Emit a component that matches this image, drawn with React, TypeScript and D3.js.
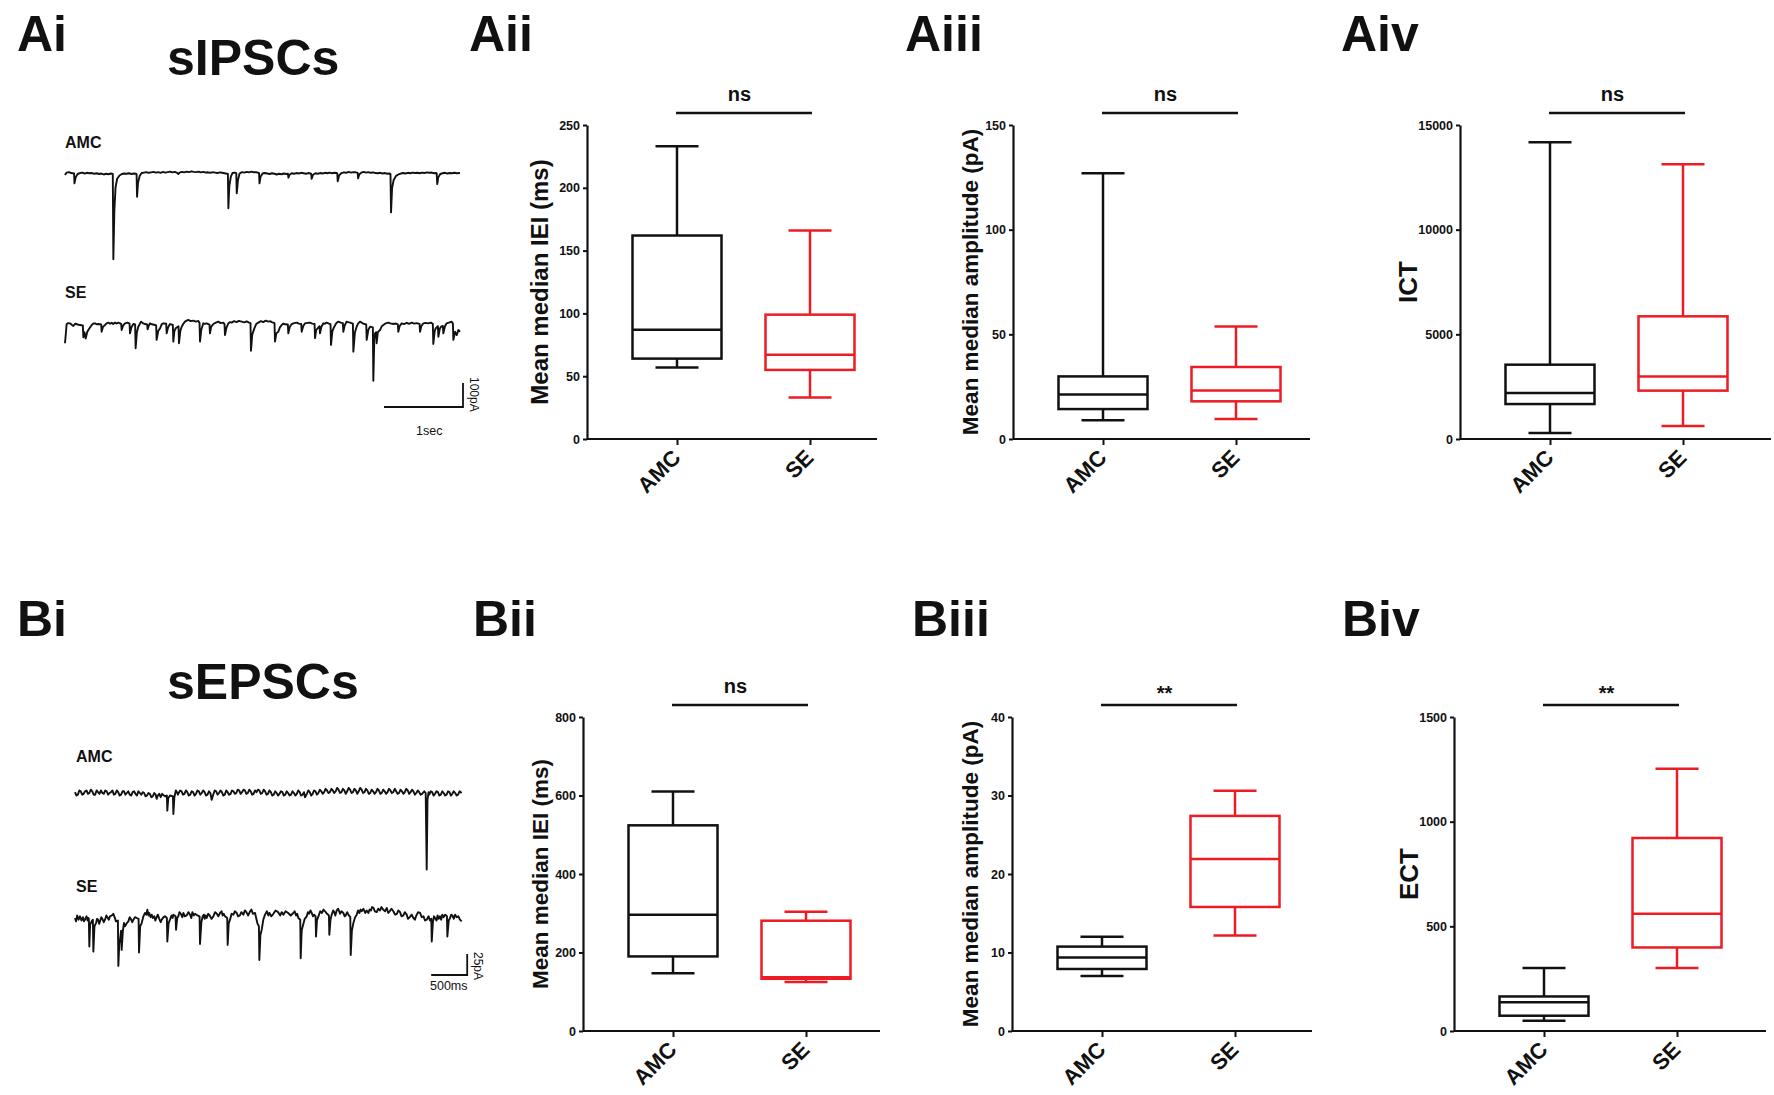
import React, { useEffect, useRef } from "react";
import * as d3 from "d3";

const FONT = "'Liberation Sans', Arial, Helvetica, sans-serif";
const INK = "#111";
const RED = "#ec1c24";

const groups = ["AMC", "SE"];

// box stats per group: [min, q1, median, q3, max]
const ipscIei = [[57, 64, 87, 162, 233], [33, 55, 67, 99, 166]];
const ipscAmp = [[9, 14.3, 21.2, 29.9, 127], [9.5, 18, 23.2, 34.4, 53.8]];
const ipscIct = [[290, 1670, 2200, 3550, 14170], [620, 2310, 2990, 5860, 13130]];
const epscIei = [[147, 190, 296, 524, 610], [125, 133, 137, 281, 304]];
const epscAmp = [[7, 7.9, 9.35, 10.75, 12], [12.15, 15.8, 21.9, 27.4, 30.6]];
const epscEct = [[49, 73, 137, 165, 301], [301, 399, 560, 922, 1253]];

// example current traces: [time (s), current (pA)]
const ipscAmc = [
  [0, -4], [0.02, 6], [0.05, 8], [0.08, 4], [0.1, 3], [0.115, 2], [0.12, -39], [0.135, -14], [0.16, 0], [0.19, 4],
  [0.22, 6], [0.25, 2], [0.28, 5], [0.31, 3], [0.34, 4], [0.37, 1], [0.4, 3], [0.43, 0], [0.46, 2], [0.49, -2],
  [0.52, 1], [0.55, -1], [0.58, 2], [0.605, 0], [0.612, -355], [0.625, -150], [0.64, -55], [0.66, -20], [0.69, -6],
  [0.72, 0], [0.75, 2], [0.78, 1], [0.81, 3], [0.84, 0], [0.87, 2], [0.9, 1], [0.906, 0], [0.912, -95], [0.925, -35],
  [0.945, -8], [0.97, 4], [1.0, 6], [1.03, 8], [1.06, 5], [1.09, 7], [1.12, 9], [1.15, 6], [1.18, 8], [1.21, 5],
  [1.24, 9], [1.27, 6], [1.3, 8], [1.33, 10], [1.36, 7], [1.39, 9], [1.42, 5], [1.435, 0], [1.45, 6], [1.48, 9],
  [1.51, 7], [1.54, 10], [1.57, 8], [1.6, 11], [1.63, 9], [1.66, 8], [1.69, 10], [1.72, 7], [1.75, 9], [1.78, 6],
  [1.81, 7], [1.84, 5], [1.87, 8], [1.9, 6], [1.93, 4], [1.96, 7], [1.99, 5], [2.02, 3], [2.05, 1], [2.062, 0],
  [2.068, -143], [2.08, -50], [2.1, -10], [2.12, 4], [2.15, 6], [2.168, 4], [2.174, -80], [2.19, -25], [2.21, 2],
  [2.24, 8], [2.27, 6], [2.3, 9], [2.33, 7], [2.36, 10], [2.39, 7], [2.42, 8], [2.45, 5], [2.456, 4], [2.462, -39],
  [2.475, -12], [2.5, 2], [2.53, 4], [2.56, 2], [2.59, 0], [2.62, 3], [2.65, 1], [2.68, -2], [2.71, 1], [2.74, -1],
  [2.77, 2], [2.8, 0], [2.822, 1], [2.828, -15], [2.845, -2], [2.87, 3], [2.9, 1], [2.93, 4], [2.96, 2], [2.99, 5],
  [3.02, 3], [3.05, 1], [3.08, 4], [3.11, 2], [3.116, 1], [3.122, -20], [3.14, -3], [3.17, 3], [3.2, 1], [3.23, 4],
  [3.26, 2], [3.29, 5], [3.32, 3], [3.35, 6], [3.38, 3], [3.41, 5], [3.44, 4], [3.446, 3], [3.452, -30], [3.47, -6],
  [3.5, 4], [3.53, 7], [3.56, 5], [3.59, 9], [3.62, 6], [3.65, 8], [3.68, 7], [3.705, 5], [3.71, -18], [3.725, -2],
  [3.75, 6], [3.78, 9], [3.81, 6], [3.84, 8], [3.87, 5], [3.9, 7], [3.93, 4], [3.96, 3], [3.99, 5], [4.02, 2],
  [4.05, 4], [4.08, 1], [4.11, 2], [4.12, 0], [4.127, -160], [4.14, -60], [4.16, -25], [4.19, -8], [4.22, -2],
  [4.25, 2], [4.28, 4], [4.31, 2], [4.34, 5], [4.37, 3], [4.4, 6], [4.43, 4], [4.46, 5], [4.49, 3], [4.52, 6],
  [4.55, 4], [4.58, 7], [4.61, 5], [4.64, 6], [4.67, 3], [4.7, 4], [4.705, 3], [4.712, -42], [4.725, -14], [4.75, 0],
  [4.78, 3], [4.81, 5], [4.84, 2], [4.87, 4], [4.9, 3], [4.93, 5], [4.96, 3], [5.0, 4],
];

const ipscSe = [
  [0, -76], [0.021, 4], [0.04, 8], [0.063, 7], [0.085, 1], [0.105, -4], [0.128, 5], [0.148, 4], [0.17, 1], [0.19, 0],
  [0.226, -2], [0.232, -51], [0.246, -30], [0.262, -56], [0.28, -30], [0.295, -21], [0.338, 0], [0.36, 6], [0.38, 7],
  [0.4, 3], [0.422, 4], [0.458, 2], [0.464, -28], [0.48, -8], [0.506, 0], [0.53, 8], [0.549, 10], [0.57, 5],
  [0.591, 9], [0.61, 4], [0.633, 10], [0.655, 6], [0.675, 10], [0.711, 5], [0.717, -21], [0.735, -3], [0.76, 7],
  [0.79, 10], [0.817, 6], [0.823, -35], [0.84, -10], [0.865, 4], [0.888, 2], [0.894, -97], [0.91, -30], [0.928, -7],
  [0.962, 14], [0.985, 8], [1.013, 4], [1.04, 2], [1.046, -18], [1.06, -3], [1.076, 7], [1.1, 3], [1.139, 0],
  [1.154, -2], [1.16, -62], [1.18, -25], [1.203, -14], [1.225, 4], [1.245, 7], [1.281, 5], [1.287, -35], [1.305, -10],
  [1.329, 4], [1.35, 2], [1.365, 0], [1.371, -69], [1.385, -25], [1.401, -14], [1.437, -5], [1.443, -76], [1.46, -25],
  [1.477, -7], [1.5, 6], [1.519, 14], [1.54, 18], [1.561, 21], [1.59, 16], [1.624, 18], [1.655, 14], [1.688, 17],
  [1.703, 8], [1.709, -69], [1.725, -20], [1.751, 7], [1.77, 5], [1.793, 7], [1.829, 2], [1.835, -35], [1.85, -8],
  [1.878, 4], [1.91, 10], [1.941, 14], [1.97, 8], [2.004, 10], [2.019, 4], [2.025, -42], [2.045, -10], [2.068, 7],
  [2.09, 12], [2.11, 10], [2.14, 16], [2.173, 12], [2.2, 17], [2.236, 14], [2.27, 11], [2.3, 15], [2.33, 10],
  [2.348, 8], [2.354, -107], [2.37, -40], [2.397, -14], [2.42, 4], [2.447, 10], [2.48, 16], [2.51, 12], [2.54, 18],
  [2.574, 14], [2.6, 16], [2.616, 12], [2.652, 8], [2.658, -69], [2.675, -35], [2.7, -28], [2.72, -10], [2.743, 0],
  [2.765, 6], [2.785, 3], [2.821, 2], [2.827, -35], [2.845, -8], [2.869, 4], [2.9, 8], [2.932, 10], [2.96, 6],
  [2.99, 4], [2.996, -28], [3.015, -5], [3.038, 7], [3.07, 9], [3.101, 10], [3.13, 6], [3.159, 4], [3.165, -55],
  [3.18, -20], [3.198, -14], [3.222, -5], [3.228, -35], [3.245, -8], [3.27, 7], [3.29, 5], [3.312, 10], [3.34, 6],
  [3.361, 4], [3.367, -83], [3.385, -25], [3.409, -7], [3.435, 8], [3.46, 14], [3.49, 10], [3.517, 8], [3.523, -28],
  [3.54, -2], [3.565, 14], [3.585, 12], [3.608, 10], [3.644, 6], [3.65, -111], [3.67, -30], [3.692, -7], [3.71, 6],
  [3.734, 14], [3.755, 10], [3.776, 6], [3.813, 2], [3.819, -62], [3.84, -20], [3.861, -7], [3.897, -10],
  [3.903, -232], [3.915, -60], [3.924, -35], [3.939, -30], [3.945, -76], [3.96, -30], [3.987, -21], [4.01, -5],
  [4.03, 0], [4.06, 7], [4.093, 10], [4.12, 7], [4.156, 4], [4.19, 6], [4.213, 3], [4.219, -28], [4.235, -5],
  [4.262, 7], [4.29, 4], [4.325, 9], [4.355, 5], [4.388, 10], [4.42, 6], [4.451, 8], [4.488, 5], [4.494, -28],
  [4.51, -5], [4.536, 7], [4.565, 9], [4.599, 7], [4.63, 10], [4.656, 5], [4.662, -79], [4.68, -25], [4.692, -14],
  [4.72, -5], [4.726, -49], [4.745, -15], [4.76, -7], [4.783, -4], [4.789, -35], [4.81, -5], [4.831, 7], [4.86, 10],
  [4.895, 14], [4.91, 6], [4.916, -62], [4.937, -28], [4.958, -42], [4.979, -21], [5.0, -28],
];

const epscAmc = [
  [0, 1], [0.02, -3], [0.04, -2], [0.06, 3], [0.08, 2], [0.1, -2], [0.12, -1], [0.14, 2], [0.16, 3], [0.18, -1],
  [0.2, 0], [0.22, 4], [0.24, 2], [0.26, -2], [0.28, -2], [0.3, 3], [0.32, 1], [0.34, -1], [0.36, 3], [0.38, 0],
  [0.4, -1], [0.42, 3], [0.44, 2], [0.46, -2], [0.48, 0], [0.5, 1], [0.52, 3], [0.54, -2], [0.56, -1], [0.58, 3],
  [0.6, 1], [0.62, -3], [0.64, -2], [0.66, 2], [0.68, 2], [0.7, -2], [0.72, 0], [0.74, 2], [0.76, -2], [0.78, -3],
  [0.8, 1], [0.82, 2], [0.84, -1], [0.86, -3], [0.88, 2], [0.9, 0], [0.92, -2], [0.94, 1], [0.96, 0], [0.98, -4],
  [1.0, -3], [1.02, 0], [1.04, -1], [1.06, -5], [1.08, -4], [1.1, 0], [1.12, -2], [1.134, -7], [1.15, -3], [1.17, -1],
  [1.19, -5], [1.21, -1], [1.22, -2], [1.25, -4], [1.276, -3], [1.282, -21], [1.295, -6], [1.32, -3], [1.36, -4],
  [1.366, -25], [1.38, -5], [1.4, 3], [1.41, 2], [1.43, -2], [1.44, 0], [1.46, 3], [1.48, 2], [1.5, -2], [1.52, -1],
  [1.54, 3], [1.56, 1], [1.58, -3], [1.6, -2], [1.62, 2], [1.64, 1], [1.66, -3], [1.68, -1], [1.7, 3], [1.72, 2],
  [1.74, -2], [1.76, 0], [1.78, 3], [1.8, 1], [1.82, -3], [1.84, -2], [1.86, 2], [1.88, 0], [1.898, -8], [1.92, -2],
  [1.94, 3], [1.96, 2], [1.98, -2], [2.0, 0], [2.02, 3], [2.04, 1], [2.06, -3], [2.08, -2], [2.1, 3], [2.12, 1],
  [2.14, -2], [2.16, -1], [2.18, 3], [2.2, 2], [2.22, -1], [2.24, 0], [2.26, 4], [2.28, 3], [2.3, -1], [2.32, 1],
  [2.34, 4], [2.36, 3], [2.38, -1], [2.4, 0], [2.42, 4], [2.44, 2], [2.46, -2], [2.48, -1], [2.5, 3], [2.52, 1],
  [2.54, 4], [2.56, 3], [2.58, -1], [2.6, 0], [2.62, 4], [2.64, 2], [2.66, -2], [2.68, -1], [2.7, 3], [2.72, 1],
  [2.74, -3], [2.76, -2], [2.78, 2], [2.8, 0], [2.82, -3], [2.84, -1], [2.86, 2], [2.88, 1], [2.9, -3], [2.92, -2],
  [2.94, 2], [2.96, 0], [2.98, -3], [3.0, -2], [3.02, 2], [3.04, 0], [3.06, -3], [3.08, -1], [3.1, 3], [3.12, 1],
  [3.14, -3], [3.16, -2], [3.18, 1], [3.194, -5], [3.22, -1], [3.24, 3], [3.26, 1], [3.28, -3], [3.3, -1], [3.32, 3],
  [3.34, 2], [3.36, -2], [3.38, 0], [3.4, 4], [3.42, 2], [3.44, -1], [3.46, 1], [3.48, 5], [3.5, 3], [3.52, 0],
  [3.54, 1], [3.56, 5], [3.58, 3], [3.6, 0], [3.62, 2], [3.64, 6], [3.66, 4], [3.68, 0], [3.7, 1], [3.72, 5],
  [3.74, 3], [3.76, -1], [3.78, 2], [3.8, 6], [3.82, 4], [3.84, 0], [3.86, 1], [3.88, 5], [3.9, 3], [3.92, -1],
  [3.94, 2], [3.96, 6], [3.98, 4], [4.0, 0], [4.02, 1], [4.04, 5], [4.06, 3], [4.08, -1], [4.1, 0], [4.12, 4],
  [4.14, 2], [4.16, -1], [4.18, 1], [4.2, 5], [4.22, 3], [4.24, -1], [4.26, 0], [4.28, 4], [4.3, 2], [4.32, -1],
  [4.34, 1], [4.36, 5], [4.38, 3], [4.4, 0], [4.42, 1], [4.44, 5], [4.46, 2], [4.48, -1], [4.5, 0], [4.52, 4],
  [4.54, 2], [4.56, -1], [4.58, 1], [4.6, 5], [4.62, 3], [4.64, -1], [4.66, 1], [4.68, 4], [4.7, 2], [4.72, -2],
  [4.74, 0], [4.76, 3], [4.78, 1], [4.8, -2], [4.82, -1], [4.85, 2], [4.87, 0], [4.884, -91], [4.895, -8], [4.91, 1],
  [4.92, -2], [4.94, 2], [4.96, 1], [4.98, -3], [5.0, -1], [5.02, 2], [5.04, 1], [5.06, -3], [5.08, -2], [5.1, 2],
  [5.12, 0], [5.14, -3], [5.16, -2], [5.18, 2], [5.2, 1], [5.22, -3], [5.24, -1], [5.26, 2], [5.28, 0], [5.3, -3],
  [5.32, -2], [5.34, 2], [5.37, 0],
];

const epscSe = [
  [0, 0], [0.015, -4], [0.03, 3], [0.05, -2], [0.069, 2], [0.09, -3], [0.11, 1], [0.125, -4], [0.139, -2], [0.16, 2],
  [0.175, -3], [0.185, 0], [0.192, -1], [0.199, -34], [0.21, -8], [0.231, -4], [0.248, -2], [0.255, -40], [0.27, -10],
  [0.292, -6], [0.305, -1], [0.32, -2], [0.335, -7], [0.347, -4], [0.365, 1], [0.38, -1], [0.4, -5], [0.417, -2],
  [0.435, 3], [0.45, 1], [0.47, -2], [0.486, 2], [0.51, 3], [0.532, 5], [0.55, 1], [0.569, -4], [0.596, -3],
  [0.602, -57], [0.615, -30], [0.625, -26], [0.64, -15], [0.648, -38], [0.665, -15], [0.68, -6], [0.694, -10],
  [0.72, -6], [0.741, -4], [0.76, 1], [0.775, -1], [0.795, -5], [0.81, -2], [0.835, 1], [0.856, 0], [0.883, -1],
  [0.889, -41], [0.905, -10], [0.926, -6], [0.95, 2], [0.972, 6], [0.99, 4], [1.005, 10], [1.02, 3], [1.03, 6],
  [1.05, 1], [1.065, 4], [1.08, 0], [1.1, 2], [1.115, -3], [1.134, 1], [1.15, 4], [1.17, -1], [1.19, -5],
  [1.204, -2], [1.23, 1], [1.25, 2], [1.276, 0], [1.282, -28], [1.3, -6], [1.319, -2], [1.34, 3], [1.355, 0],
  [1.366, 4], [1.397, 2], [1.403, -14], [1.42, 0], [1.435, 2], [1.45, 7], [1.47, 5], [1.49, 1], [1.505, 6],
  [1.525, 2], [1.55, 3], [1.575, 7], [1.597, 4], [1.615, 0], [1.63, 7], [1.65, 3], [1.667, 5], [1.7, 3], [1.73, 2],
  [1.736, -31], [1.755, -5], [1.773, 2], [1.79, 4], [1.8, -1], [1.815, 3], [1.829, 0], [1.85, 5], [1.87, 3],
  [1.895, -1], [1.921, 2], [1.945, 7], [1.97, 5], [1.99, 2], [2.014, 6], [2.035, 8], [2.05, 3], [2.065, 5],
  [2.083, 2], [2.114, 0], [2.12, -32], [2.135, -6], [2.153, -2], [2.175, 5], [2.2, 4], [2.22, 8], [2.245, 6],
  [2.265, 2], [2.29, 3], [2.31, 7], [2.338, 4], [2.36, 9], [2.38, 7], [2.405, 3], [2.431, 8], [2.45, 10], [2.47, 5],
  [2.5, 6], [2.532, -6], [2.554, -10], [2.56, -50], [2.575, -20], [2.593, -14], [2.615, -2], [2.639, 4], [2.665, 8],
  [2.685, 3], [2.7, 6], [2.725, 2], [2.755, 5], [2.785, 9], [2.82, 7], [2.85, 3], [2.87, 7], [2.894, 4], [2.925, 8],
  [2.96, 6], [2.995, 3], [3.032, 6], [3.05, 8], [3.07, 3], [3.085, 5], [3.102, 0], [3.128, -2], [3.134, -48],
  [3.148, -15], [3.162, -10], [3.19, -1], [3.218, 2], [3.235, 7], [3.25, 5], [3.27, 9], [3.287, 6], [3.305, 2],
  [3.32, 4], [3.341, 2], [3.347, -22], [3.36, -3], [3.38, 2], [3.405, 8], [3.43, 6], [3.45, 10], [3.472, 8],
  [3.5, 5], [3.526, 3], [3.532, -20], [3.548, -2], [3.565, 4], [3.585, 9], [3.6, 7], [3.615, 3], [3.634, 9],
  [3.655, 11], [3.68, 5], [3.7, 8], [3.727, 6], [3.745, 2], [3.76, 3], [3.78, 7], [3.796, 4], [3.823, 1],
  [3.829, -44], [3.845, -15], [3.866, -6], [3.89, 1], [3.912, 4], [3.93, 9], [3.95, 6], [3.965, 10], [3.981, 8],
  [4.005, 11], [4.03, 6], [4.05, 9], [4.074, 6], [4.09, 10], [4.11, 9], [4.125, 13], [4.144, 12], [4.165, 8],
  [4.19, 7], [4.21, 11], [4.236, 9], [4.255, 13], [4.28, 10], [4.305, 8], [4.329, 12], [4.35, 6], [4.37, 8],
  [4.395, 11], [4.421, 8], [4.445, 4], [4.47, 5], [4.49, 9], [4.514, 7], [4.535, 2], [4.56, 3], [4.58, 7],
  [4.606, 4], [4.625, -1], [4.65, 1], [4.675, 4], [4.699, 0], [4.72, -2], [4.74, 3], [4.765, 7], [4.792, 6],
  [4.815, 1], [4.84, 2], [4.86, -3], [4.884, -2], [4.91, 2], [4.93, -3], [4.948, -1], [4.954, -28], [4.97, -5],
  [4.985, 2], [5.0, 0], [5.02, -3], [5.035, 3], [5.05, -1], [5.069, 2], [5.085, -2], [5.1, 4], [5.12, 1],
  [5.139, 4], [5.165, 2], [5.171, -22], [5.19, -3], [5.208, 0], [5.225, 4], [5.24, 3], [5.26, -1], [5.278, 4],
  [5.3, 1], [5.324, 2], [5.345, -2], [5.37, -4],
];

// layout of the two rows of box plots
const rowA = { top: 125, bottom: 439, tagY: 51 };
const rowB = { top: 717, bottom: 1031, tagY: 636 };

const boxPanels = [
  { row: rowA, tag: "Aii", tagX: 469, stats: ipscIei, yMax: 250, ticks: [0, 50, 100, 150, 200, 250], axisX: 587, axisLen: 290, yLabel: "Mean median IEI (ms)", yLabelSize: 24, yLabelOff: 39, sig: "ns" },
  { row: rowA, tag: "Aiii", tagX: 905, stats: ipscAmp, yMax: 150, ticks: [0, 50, 100, 150], axisX: 1013, axisLen: 297, yLabel: "Mean median amplitude (pA)", yLabelSize: 22.5, yLabelOff: 35, sig: "ns" },
  { row: rowA, tag: "Aiv", tagX: 1341, stats: ipscIct, yMax: 15000, ticks: [0, 5000, 10000, 15000], axisX: 1460, axisLen: 311, yLabel: "ICT", yLabelSize: 26, yLabelOff: 43, sig: "ns" },
  { row: rowB, tag: "Bii", tagX: 473, stats: epscIei, yMax: 800, ticks: [0, 200, 400, 600, 800], axisX: 583, axisLen: 297, yLabel: "Mean median IEI (ms)", yLabelSize: 22.5, yLabelOff: 35, sig: "ns" },
  { row: rowB, tag: "Biii", tagX: 912, stats: epscAmp, yMax: 40, ticks: [0, 10, 20, 30, 40], axisX: 1012, axisLen: 300, yLabel: "Mean median amplitude (pA)", yLabelSize: 22.5, yLabelOff: 34, sig: "**" },
  { row: rowB, tag: "Biv", tagX: 1342, stats: epscEct, yMax: 1500, ticks: [0, 500, 1000, 1500], axisX: 1454, axisLen: 312, yLabel: "ECT", yLabelSize: 26, yLabelOff: 36, sig: "**" },
];

const boldText = (sel, size) =>
  sel.attr("font-family", FONT).attr("font-weight", "bold").attr("font-size", size).attr("fill", INK);

function drawBoxPanel(svg, p) {
  const { row } = p;
  const g = svg.append("g");
  const y = d3.scaleLinear().domain([0, p.yMax]).range([row.bottom, row.top]);
  const x = d3.scalePoint().domain(groups).range([p.axisX + 90, p.axisX + 223]);

  boldText(g.append("text").attr("x", p.tagX).attr("y", row.tagY), 50).text(p.tag);

  // y axis
  const yAxis = g
    .append("g")
    .attr("transform", `translate(${p.axisX},0)`)
    .call(d3.axisLeft(y).tickValues(p.ticks).tickSize(4).tickSizeOuter(0).tickPadding(3).tickFormat(d3.format("d")));
  yAxis.select(".domain").attr("stroke", INK).attr("stroke-width", 2.2);
  yAxis.selectAll(".tick line").attr("stroke", INK).attr("stroke-width", 2);
  boldText(yAxis.selectAll(".tick text"), 12.5);

  boldText(
    g.append("text")
      .attr("transform", `translate(${p.axisX - p.yLabelOff},${(row.top + row.bottom) / 2}) rotate(-90)`)
      .attr("text-anchor", "middle"),
    p.yLabelSize
  ).text(p.yLabel);

  // x axis
  g.append("line")
    .attr("x1", p.axisX).attr("x2", p.axisX + p.axisLen)
    .attr("y1", y(0)).attr("y2", y(0))
    .attr("stroke", INK).attr("stroke-width", 2.2);
  const xAxis = g
    .append("g")
    .attr("transform", `translate(0,${y(0)})`)
    .call(d3.axisBottom(x).tickSize(6).tickFormat(() => ""));
  xAxis.select(".domain").remove();
  xAxis.selectAll(".tick line").attr("stroke", INK).attr("stroke-width", 2);
  groups.forEach((name) => {
    boldText(
      g.append("text")
        .attr("transform", `translate(${x(name) + 5},${y(0) + 20}) rotate(-45)`)
        .attr("text-anchor", "end"),
      22
    ).text(name);
  });

  // boxes
  p.stats.forEach((s, i) => {
    const [lo, q1, med, q3, hi] = s;
    const cx = x(groups[i]);
    const color = i === 0 ? INK : RED;
    const bg = g.append("g").attr("stroke", color).attr("stroke-width", 2.5).attr("fill", "none");
    bg.append("line").attr("x1", cx).attr("x2", cx).attr("y1", y(hi)).attr("y2", y(q3));
    bg.append("line").attr("x1", cx).attr("x2", cx).attr("y1", y(q1)).attr("y2", y(lo));
    bg.append("line").attr("x1", cx - 21.5).attr("x2", cx + 21.5).attr("y1", y(hi)).attr("y2", y(hi));
    bg.append("line").attr("x1", cx - 21.5).attr("x2", cx + 21.5).attr("y1", y(lo)).attr("y2", y(lo));
    bg.append("rect").attr("x", cx - 44.5).attr("width", 89).attr("y", y(q3)).attr("height", y(q1) - y(q3));
    bg.append("line").attr("x1", cx - 44.5).attr("x2", cx + 44.5).attr("y1", y(med)).attr("y2", y(med));
  });

  // significance bar
  const x0 = x(groups[0]);
  const x1 = x(groups[1]);
  g.append("line")
    .attr("x1", x0 - 1).attr("x2", x1 + 2)
    .attr("y1", row.top - 12).attr("y2", row.top - 12)
    .attr("stroke", INK).attr("stroke-width", 2.5);
  boldText(
    g.append("text")
      .attr("x", (x0 + x1) / 2 - 4)
      .attr("y", p.sig === "ns" ? row.top - 24 : row.top - 17)
      .attr("text-anchor", "middle"),
    20
  ).text(p.sig);
}

function drawTrace(svg, data, tx, base, pxPerPa) {
  const ty = d3.scaleLinear().domain([0, 100]).range([base, base - 100 * pxPerPa]);
  const line = d3.line().x((d) => tx(d[0])).y((d) => ty(d[1]));
  svg.append("path")
    .attr("d", line(data))
    .attr("fill", "none")
    .attr("stroke", INK)
    .attr("stroke-width", 1.9)
    .attr("stroke-linejoin", "round");
}

function drawScaleBar(svg, cornerX, cornerY, hLen, vLen, tLabel, tLabelX, tLabelY, vLabelY) {
  svg.append("path")
    .attr("d", `M${cornerX - hLen},${cornerY}H${cornerX}V${cornerY - vLen}`)
    .attr("fill", "none").attr("stroke", INK).attr("stroke-width", 1.8);
  svg.append("text")
    .attr("x", tLabelX).attr("y", tLabelY)
    .attr("font-family", FONT).attr("font-size", 12.5).attr("fill", INK)
    .text(tLabel);
  return svg.append("text")
    .attr("transform", `translate(${cornerX + 7},${vLabelY}) rotate(90)`)
    .attr("font-family", FONT).attr("font-size", 12).attr("fill", INK);
}

const App = () => {
  const svgRef = useRef<SVGSVGElement | null>(null);

  useEffect(() => {
    const svg = d3.select(svgRef.current);
    svg.selectAll("*").remove();

    svg.append("rect").attr("width", 1774).attr("height", 1095).attr("fill", "white");

    // panel Ai: sIPSC traces
    boldText(svg.append("text").attr("x", 17).attr("y", rowA.tagY), 50).text("Ai");
    boldText(svg.append("text").attr("x", 167).attr("y", 75), 50).text("sIPSCs");
    boldText(svg.append("text").attr("x", 65).attr("y", 148), 16).text("AMC");
    boldText(svg.append("text").attr("x", 65).attr("y", 298), 16).text("SE");

    const ipscX = d3.scaleLinear().domain([0, 5]).range([65, 460]);
    drawTrace(svg, ipscAmc, ipscX, 174, 0.24);
    drawScaleBar(svg, ipscX(5) + 3, 407, ipscX(1) - ipscX(0), 100 * 0.24, "1sec", 416, 435, 377).text("100pA");
    drawTrace(svg, ipscSe, ipscX, 325, 0.24);

    // panel Bi: sEPSC traces
    boldText(svg.append("text").attr("x", 17).attr("y", rowB.tagY), 50).text("Bi");
    boldText(svg.append("text").attr("x", 167).attr("y", 699), 50).text("sEPSCs");
    boldText(svg.append("text").attr("x", 76).attr("y", 762), 16).text("AMC");
    boldText(svg.append("text").attr("x", 76).attr("y", 892), 16).text("SE");

    const epscX = d3.scaleLinear().domain([0, 5.37]).range([75, 461.7]);
    drawTrace(svg, epscAmc, epscX, 793, 0.84);
    drawTrace(svg, epscSe, epscX, 918, 0.84);
    drawScaleBar(svg, epscX(5.37) + 5.5, 975, epscX(0.5) - epscX(0), 25 * 0.84, "500ms", 430, 990, 952).text("25pA");

    boxPanels.forEach((p) => drawBoxPanel(svg, p));
  }, []);

  return (
    <svg
      ref={svgRef}
      width={1774}
      height={1095}
      style={{ position: "absolute", left: 0, top: 0, display: "block" }}
    ></svg>
  );
};

export default App;
